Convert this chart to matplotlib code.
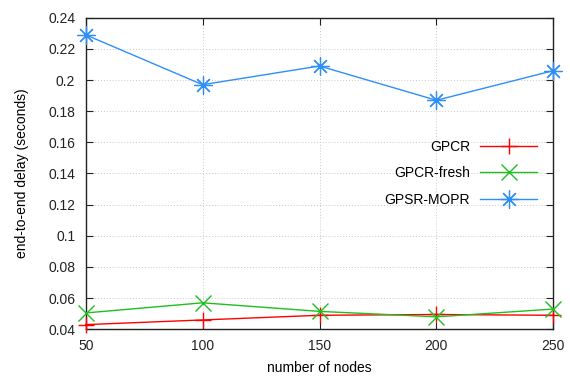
import matplotlib
matplotlib.use("Agg")
import matplotlib.pyplot as plt

plt.rcParams['font.family'] = ['Liberation Sans', 'DejaVu Sans']

nodes = [50, 100, 150, 200, 250]
gpcr = [0.043, 0.046, 0.049, 0.0495, 0.049]
gpcr_fresh = [0.0505, 0.057, 0.0515, 0.048, 0.053]
gpsr_mopr = [0.229, 0.197, 0.209, 0.187, 0.206]

yticks = [0.04, 0.06, 0.08, 0.10, 0.12, 0.14, 0.16, 0.18, 0.20, 0.22, 0.24]
ytick_labels = ["0.04", "0.06", "0.08", "0.1", "0.12", "0.14", "0.16", "0.18", "0.2", "0.22", "0.24"]

fig = plt.figure(figsize=(5.70, 3.76), dpi=100)
W, H = 570, 376
l, r, t, b = 85.7, 553.3, 17.7, 329.3
ax = fig.add_axes([l / W, 1 - b / H, (r - l) / W, (b - t) / H])

red = "#ff0000"
green = "#1fbf1f"
blue = "#2f8ff7"

ax.plot(nodes, gpcr, color=red, lw=1.0, marker='+', ms=12, mew=1.0,
        label="GPCR", clip_on=False, zorder=3)
ax.plot(nodes, gpcr_fresh, color=green, lw=1.0, marker='x', ms=11, mew=1.0,
        label="GPCR-fresh", clip_on=False, zorder=3)
ax.plot(nodes, gpsr_mopr, color=blue, lw=1.0, marker=(8, 2, 0), ms=13, mew=0.9,
        label="GPSR-MOPR", clip_on=False, zorder=3)

ax.set_xlim(50, 250)
ax.set_ylim(0.04, 0.24)
ax.set_xticks(nodes)
ax.set_xticklabels([str(n) for n in nodes])
ax.set_yticks(yticks)
ax.set_yticklabels(ytick_labels)

ax.grid(True, color="#c8c8c8", linestyle=(0, (1, 2)), linewidth=0.7)
ax.set_axisbelow(True)
ax.tick_params(direction='in', length=5, width=0.8, top=True, right=True,
               labelsize=10, colors='#222222')
ax.tick_params(axis='y', pad=7.5)
ax.tick_params(axis='x', pad=7)
for s in ax.spines.values():
    s.set_linewidth(1.0)
    s.set_color('#222222')

ax.set_xlabel("number of nodes", fontsize=10, labelpad=6)
ax.set_ylabel("end-to-end delay (seconds)", fontsize=10, labelpad=14)

ax.legend(loc='center right', bbox_to_anchor=((537 - l) / (r - l), (b - 173.3) / (b - t)),
          frameon=False, markerfirst=False, fontsize=10, handlelength=4.1,
          handletextpad=0.72, labelspacing=0.9, borderpad=0, borderaxespad=0)

fig.savefig("out.png", dpi=100)
